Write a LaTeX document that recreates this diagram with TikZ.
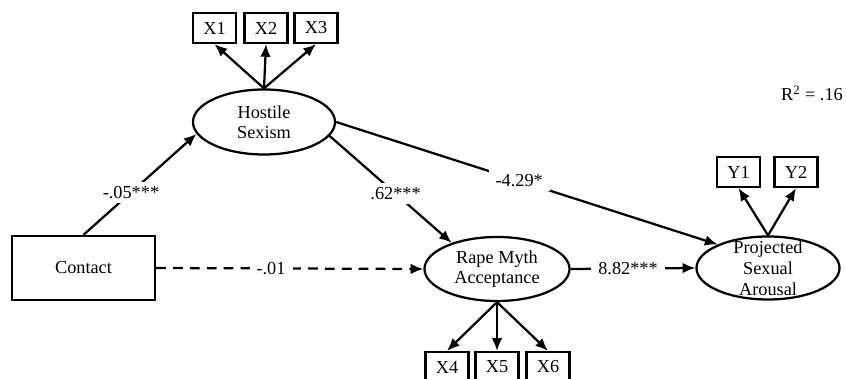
\documentclass[tikz,border=0pt]{standalone}
\usepackage{fontspec}
\setmainfont{Liberation Serif}
\usetikzlibrary{arrows.meta,shapes.geometric}

\begin{document}
\begin{tikzpicture}[x=0.025cm,y=-0.025cm,line width=1.6pt,>={Latex[length=9pt,width=7.5pt]},font=\fontsize{13}{14.5}\selectfont,
obs/.style={draw,minimum width=1.075cm,minimum height=0.75cm,inner sep=0},
lat/.style={draw,ellipse,inner sep=0,align=center},
coef/.style={fill=white,inner xsep=5pt,inner ysep=3pt}]
\useasboundingbox(0,0)rectangle(846,379);
% latent variables
\node[draw,minimum width=3.575cm,minimum height=1.6cm](ct)at(83.5,268){Contact};
\node[lat,minimum width=3.55cm,minimum height=1.625cm](hs)at(264,122){Hostile\\Sexism};
\node[lat,minimum width=3.625cm,minimum height=1.6cm](rma)at(497,269){Rape Myth\\Acceptance};
\node[lat,minimum width=3.575cm,minimum height=1.575cm,label={[align=center,font=\fontsize{13}{14.8}\selectfont]center:Projected\\Sexual\\Arousal}](psa)at(768,268){};
% indicators
\node[obs](x1)at(214.5,28){X1};\node[obs](x2)at(266,28){X2};\node[obs](x3)at(316,28){X3};
\node[obs](x4)at(447,367){X4};\node[obs](x5)at(497,367){X5};\node[obs](x6)at(548,367){X6};
\node[obs](y1)at(738.5,172){Y1};\node[obs](y2)at(796,172){Y2};
\foreach\i in{x1,x2,x3}\draw[->](hs.north)--(\i.south);
\foreach\i in{x4,x5,x6}\draw[->](rma.south)--(\i.north);
\foreach\i in{y1,y2}\draw[->](psa.north)--(\i.south);
% paths
\draw[->](ct.north)--node[coef,pos=.42]{-.05***}(hs.190);
\draw[->,dash pattern=on 7pt off 5pt](ct.east)--node[coef,pos=.43]{-.01}(rma.west);
\draw[->](hs.-12)--node[coef,pos=.54]{.62***}(rma.150);
\draw[->](hs.east)--node[coef,pos=.48]{-4.29*}(psa.155);
\draw[->](rma.east)--node[coef,pos=.46]{8.82***}(psa.west);
\node(r2)at(812,93){R\textsuperscript{2} = .16};
\end{tikzpicture}
\end{document}
